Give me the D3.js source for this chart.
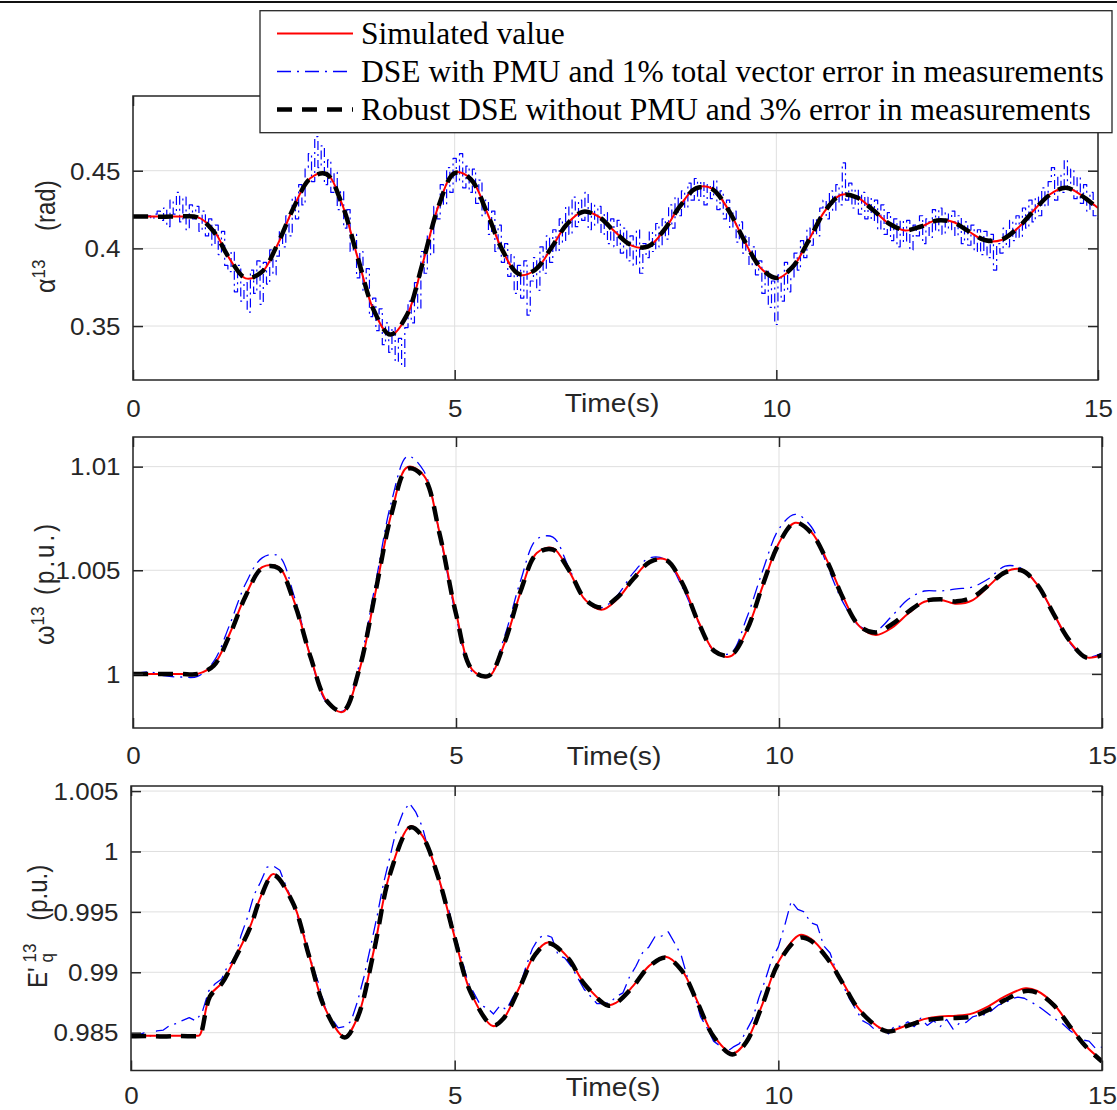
<!DOCTYPE html>
<html>
<head>
<meta charset="utf-8">
<script src="https://cdn.jsdelivr.net/npm/d3@7"></script>
<style>
  html, body { margin: 0; padding: 0; background: #fff; }
  svg { display: block; }
</style>
</head>
<body>
<svg id="fig" width="1117" height="1110"></svg>
<script>
// ---------------------------------------------------------------------------
// Data: generator 13 rotor angle, speed and transient EMF after a disturbance
// ---------------------------------------------------------------------------
const timeTicks  = [0, 5, 10, 15];
const alphaTicks = [0.35, 0.4, 0.45];
const omegaTicks = [1, 1.005, 1.01];
const eqTicks    = [0.985, 0.99, 0.995, 1, 1.005];

const legendLabels = [
  "Simulated value",
  "DSE with PMU and 1% total vector error in measurements",
  "Robust DSE without PMU and 3% error in measurements"
];

// rotor angle (rad), every 0.25 s
const alphaSim = [
  0.4205, 0.4205, 0.4205, 0.4205, 0.4203, 0.4119, 0.3934, 0.3807, 0.3844, 0.4027,
  0.4267, 0.4450, 0.4483, 0.4285, 0.3929, 0.3592, 0.3441, 0.3560, 0.3899, 0.4275,
  0.4488, 0.4448, 0.4235, 0.3980, 0.3831, 0.3859, 0.4000, 0.4160, 0.4238, 0.4201,
  0.4104, 0.4018, 0.4009, 0.4113, 0.4273, 0.4389, 0.4385, 0.4252, 0.4051, 0.3876,
  0.3806, 0.3876, 0.4050, 0.4238, 0.4344, 0.4330, 0.4250, 0.4159, 0.4115, 0.4140,
  0.4182, 0.4170, 0.4107, 0.4050, 0.4054, 0.4129, 0.4244, 0.4347, 0.4392, 0.4340,
  0.4260
];
const alphaRobust = [
  0.4205, 0.4205, 0.4204, 0.4206, 0.4200, 0.4110, 0.3935, 0.3810, 0.3848, 0.4030,
  0.4265, 0.4448, 0.4480, 0.4283, 0.3930, 0.3595, 0.3445, 0.3565, 0.3902, 0.4272,
  0.4485, 0.4445, 0.4232, 0.3982, 0.3835, 0.3862, 0.4002, 0.4158, 0.4236, 0.4200,
  0.4102, 0.4020, 0.4011, 0.4115, 0.4270, 0.4386, 0.4383, 0.4250, 0.4053, 0.3879,
  0.3810, 0.3879, 0.4048, 0.4236, 0.4342, 0.4328, 0.4248, 0.4160, 0.4117, 0.4141,
  0.4180, 0.4168, 0.4108, 0.4052, 0.4056, 0.4130, 0.4242, 0.4345, 0.4390, 0.4338,
  0.4258
];
// rotor angle estimated with PMU data, every 0.05 s (held between samples)
const alphaPmu = [
  0.420, 0.421, 0.420, 0.421, 0.420, 0.421, 0.419, 0.422, 0.424, 0.418,
  0.426, 0.414, 0.431, 0.422, 0.436, 0.417, 0.433, 0.412, 0.428, 0.419,
  0.427, 0.411, 0.424, 0.408, 0.419, 0.402, 0.415, 0.396, 0.411, 0.389,
  0.385, 0.398, 0.372, 0.389, 0.366, 0.378, 0.359, 0.386, 0.371, 0.392,
  0.364, 0.391, 0.377, 0.399, 0.383, 0.395, 0.412, 0.401, 0.421, 0.408,
  0.433, 0.419, 0.441, 0.428, 0.452, 0.461, 0.443, 0.472, 0.452, 0.466,
  0.441, 0.457, 0.436, 0.449, 0.425, 0.437, 0.413, 0.425, 0.398, 0.409,
  0.381, 0.398, 0.372, 0.387, 0.356, 0.368, 0.347, 0.361, 0.338, 0.352,
  0.333, 0.349, 0.327, 0.342, 0.324, 0.349, 0.366, 0.352, 0.378, 0.361,
  0.398, 0.384, 0.409, 0.396, 0.427, 0.419, 0.441, 0.428, 0.452, 0.436,
  0.458, 0.443, 0.461, 0.439, 0.453, 0.436, 0.451, 0.429, 0.444, 0.421,
  0.431, 0.409, 0.424, 0.398, 0.415, 0.391, 0.403, 0.382, 0.396, 0.371,
  0.389, 0.368, 0.392, 0.357, 0.379, 0.394, 0.373, 0.401, 0.384, 0.408,
  0.391, 0.412, 0.398, 0.419, 0.404, 0.427, 0.409, 0.433, 0.414, 0.431,
  0.418, 0.436, 0.412, 0.429, 0.415, 0.427, 0.409, 0.423, 0.403, 0.419,
  0.401, 0.418, 0.397, 0.413, 0.392, 0.408, 0.389, 0.412, 0.384, 0.403,
  0.394, 0.411, 0.398, 0.416, 0.401, 0.419, 0.406, 0.428, 0.413, 0.433,
  0.421, 0.437, 0.426, 0.442, 0.431, 0.445, 0.431, 0.443, 0.428, 0.441,
  0.432, 0.444, 0.425, 0.437, 0.419, 0.431, 0.413, 0.424, 0.404, 0.417,
  0.397, 0.408, 0.389, 0.401, 0.383, 0.392, 0.371, 0.386, 0.362, 0.379,
  0.351, 0.383, 0.366, 0.391, 0.372, 0.381, 0.397, 0.386, 0.405, 0.394,
  0.413, 0.402, 0.419, 0.408, 0.426, 0.431, 0.419, 0.437, 0.424, 0.441,
  0.428, 0.455, 0.431, 0.442, 0.426, 0.438, 0.422, 0.436, 0.419, 0.433,
  0.418, 0.431, 0.412, 0.428, 0.409, 0.423, 0.405, 0.419, 0.401, 0.418,
  0.404, 0.418, 0.399, 0.415, 0.408, 0.421, 0.403, 0.419, 0.407, 0.425,
  0.411, 0.426, 0.409, 0.423, 0.412, 0.424, 0.408, 0.421, 0.403, 0.417,
  0.402, 0.415, 0.398, 0.412, 0.396, 0.411, 0.394, 0.409, 0.386, 0.403,
  0.397, 0.413, 0.401, 0.418, 0.405, 0.421, 0.407, 0.426, 0.413, 0.431,
  0.417, 0.433, 0.421, 0.439, 0.427, 0.443, 0.452, 0.431, 0.447, 0.436,
  0.457, 0.438, 0.451, 0.432, 0.446, 0.429, 0.441, 0.424, 0.436, 0.421,
  0.419
];

// rotor speed (p.u.), every 0.25 s
const omegaSim = [
  1.00000, 1.00000, 1.00000, 1.00000, 1.00000, 1.00043, 1.00196, 1.00384, 1.00515, 1.00516,
  1.00345, 1.00081, 0.99866, 0.99817, 1.00013, 1.00388, 1.00774, 1.00998, 1.00958, 1.00675,
  1.00296, 1.00021, 0.99986, 1.00147, 1.00394, 1.00583, 1.00607, 1.00496, 1.00357, 1.00309,
  1.00362, 1.00461, 1.00543, 1.00551, 1.00437, 1.00255, 1.00110, 1.00085, 1.00209, 1.00426,
  1.00633, 1.00729, 1.00685, 1.00543, 1.00366, 1.00228, 1.00188, 1.00223, 1.00291, 1.00348,
  1.00357, 1.00338, 1.00356, 1.00425, 1.00492, 1.00505, 1.00430, 1.00293, 1.00156, 1.00081,
  1.00090
];
const omegaPmu = [
  1.00000, 1.00010, 0.99990, 0.99985, 0.99988, 1.00060, 1.00240, 1.00440, 1.00560, 1.00570,
  1.00370, 1.00080, 0.99860, 0.99820, 1.00040, 1.00430, 1.00830, 1.01050, 1.00980, 1.00670,
  1.00280, 1.00010, 0.99990, 1.00180, 1.00450, 1.00650, 1.00660, 1.00510, 1.00360, 1.00320,
  1.00380, 1.00490, 1.00560, 1.00550, 1.00420, 1.00250, 1.00110, 1.00100, 1.00270, 1.00500,
  1.00700, 1.00770, 1.00710, 1.00520, 1.00340, 1.00230, 1.00210, 1.00280, 1.00360, 1.00400,
  1.00400, 1.00410, 1.00420, 1.00460, 1.00520, 1.00510, 1.00430, 1.00290, 1.00150, 1.00080,
  1.00100
];
const omegaRobust = [
  1.00000, 1.00000, 1.00000, 1.00000, 1.00000, 1.00040, 1.00190, 1.00380, 1.00510, 1.00510,
  1.00340, 1.00080, 0.99870, 0.99820, 1.00020, 1.00390, 1.00770, 1.00990, 1.00950, 1.00670,
  1.00290, 1.00020, 0.99990, 1.00150, 1.00400, 1.00580, 1.00600, 1.00500, 1.00360, 1.00320,
  1.00370, 1.00460, 1.00540, 1.00550, 1.00440, 1.00250, 1.00110, 1.00090, 1.00210, 1.00430,
  1.00630, 1.00730, 1.00680, 1.00540, 1.00360, 1.00230, 1.00200, 1.00240, 1.00300, 1.00350,
  1.00360, 1.00350, 1.00370, 1.00430, 1.00490, 1.00500, 1.00430, 1.00290, 1.00160, 1.00080,
  1.00090
];

// transient EMF E'q (p.u.), knots at the listed times
const eqTime = [
  0, 0.25, 0.5, 0.75, 1.0, 1.06, 1.22, 1.4, 1.6, 1.84,
  2.0, 2.2, 2.5, 2.75, 3.0, 3.3, 3.5, 3.75, 4.0, 4.32,
  4.5, 4.75, 5.0, 5.25, 5.59, 5.75, 6.0, 6.25, 6.45, 6.75,
  7.0, 7.37, 7.5, 7.75, 8.0, 8.26, 8.5, 8.75, 9.0, 9.29,
  9.5, 9.75, 10.0, 10.33, 10.5, 10.75, 11.0, 11.25, 11.67, 12.0,
  12.25, 12.5, 12.75, 13.0, 13.25, 13.5, 13.82, 14.0, 14.25, 14.5,
  14.75, 15.0
];
const eqSim = [
  0.98475, 0.98475, 0.98475, 0.98475, 0.98475, 0.98478, 0.98810, 0.98910, 0.99110, 0.99377,
  0.99620, 0.99814, 0.99582, 0.99141, 0.98699, 0.98467, 0.98627, 0.99179, 0.99820, 1.00211,
  1.00131, 0.99785, 0.99291, 0.98832, 0.98555, 0.98612, 0.98876, 0.99160, 0.99248, 0.99123,
  0.98910, 0.98729, 0.98750, 0.98883, 0.99051, 0.99129, 0.99027, 0.98759, 0.98475, 0.98329,
  0.98424, 0.98731, 0.99085, 0.99309, 0.99278, 0.99132, 0.98913, 0.98694, 0.98517, 0.98565,
  0.98612, 0.98635, 0.98640, 0.98660, 0.98720, 0.98800, 0.98867, 0.98845, 0.98740, 0.98560,
  0.98390, 0.98270
];
const eqRobust = [
  0.98470, 0.98472, 0.98468, 0.98473, 0.98470, 0.98475, 0.98800, 0.98905, 0.99105, 0.99370,
  0.99615, 0.99805, 0.99575, 0.99135, 0.98695, 0.98460, 0.98625, 0.99170, 0.99810, 1.00200,
  1.00125, 0.99780, 0.99285, 0.98830, 0.98560, 0.98615, 0.98870, 0.99150, 0.99240, 0.99118,
  0.98905, 0.98725, 0.98748, 0.98878, 0.99045, 0.99122, 0.99020, 0.98750, 0.98468, 0.98320,
  0.98418, 0.98725, 0.99075, 0.99285, 0.99262, 0.99120, 0.98905, 0.98688, 0.98512, 0.98558,
  0.98600, 0.98618, 0.98622, 0.98635, 0.98690, 0.98770, 0.98845, 0.98830, 0.98730, 0.98555,
  0.98385, 0.98262
];
// E'q estimated with PMU data, every 0.1 s
const eqPmu = [
  0.98490, 0.98478, 0.98498, 0.98472, 0.98515, 0.98522, 0.98560, 0.98575, 0.98602, 0.98625,
  0.98598, 0.98670, 0.98845, 0.98905, 0.98945, 0.99060, 0.99105, 0.99305, 0.99455, 0.99640,
  0.99745, 0.99870, 0.99880, 0.99845, 0.99705, 0.99585, 0.99415, 0.99275, 0.99060, 0.98905,
  0.98705, 0.98615, 0.98540, 0.98550, 0.98595, 0.98760, 0.98965, 0.99210, 0.99460, 0.99735,
  0.99955, 1.00180, 1.00320, 1.00400, 1.00325, 1.00205, 1.00005, 0.99875, 0.99685, 0.99535,
  0.99315, 0.99135, 0.98925, 0.98825, 0.98725, 0.98705, 0.98655, 0.98725, 0.98690, 0.98795,
  0.98875, 0.99045, 0.99195, 0.99285, 0.99310, 0.99290, 0.99140, 0.99120, 0.99050, 0.98955,
  0.98860, 0.98800, 0.98740, 0.98740, 0.98750, 0.98800, 0.98830, 0.98960, 0.99050, 0.99160,
  0.99210, 0.99300, 0.99300, 0.99335, 0.99240, 0.99140, 0.98950, 0.98820, 0.98630, 0.98540,
  0.98430, 0.98390, 0.98340, 0.98380, 0.98410, 0.98510, 0.98610, 0.98790, 0.98940, 0.99110,
  0.99210, 0.99390, 0.99590, 0.99520, 0.99500, 0.99410, 0.99390, 0.99220, 0.99160, 0.99000,
  0.98890, 0.98780, 0.98690, 0.98600, 0.98570, 0.98520, 0.98550, 0.98490, 0.98560, 0.98550,
  0.98590, 0.98550, 0.98620, 0.98560, 0.98600, 0.98550, 0.98610, 0.98530, 0.98580, 0.98585,
  0.98630, 0.98645, 0.98650, 0.98685, 0.98730, 0.98745, 0.98780, 0.98795, 0.98785, 0.98755,
  0.98725, 0.98685, 0.98645, 0.98605, 0.98570, 0.98520, 0.98480, 0.98440, 0.98430, 0.98370,
  0.98380
];

// ---------------------------------------------------------------------------
// Drawing
// ---------------------------------------------------------------------------
const SX = 1.13;                       // horizontal stretch of the sans lettering
const SANS = "'Liberation Sans', Arial, Helvetica, sans-serif";
const SERIF = "'Liberation Serif', 'Times New Roman', serif";
const INK = "#262626";

const sampled = (n, step) => d3.range(n).map(i => +(i * step).toFixed(3));
const pairs = (times, values) => values.map((v, i) => [times[i], v]);

const smooth = d3.curveCatmullRom.alpha(0.5);
const styles = {
  sim:    { stroke: "#ff0000", width: 2,   dash: null },
  pmu:    { stroke: "#0000ff", width: 1.3, dash: "14 6 2 6" },
  robust: { stroke: "#000000", width: 4.5, dash: "15 10" }
};

const svg = d3.select("#fig");

// rule along the top edge
svg.append("line")
  .attr("x1", 0).attr("x2", 1117).attr("y1", 2).attr("y2", 2)
  .attr("stroke", "#111").attr("stroke-width", 2);

const panels = [
  {
    key: "alpha", left: 133, right: 1098, top: 96, bottom: 380,
    yDomain: [0.31526, 0.4981], ticks: alphaTicks, xPad: 21,
    series: [
      { kind: "pmu",    data: pairs(sampled(alphaPmu.length, 0.05), alphaPmu), curve: d3.curveStep, width: 1.2, dash: "9 4 2 4" },
      { kind: "sim",    data: pairs(sampled(alphaSim.length, 0.25), alphaSim), curve: smooth },
      { kind: "robust", data: pairs(sampled(alphaRobust.length, 0.25), alphaRobust), curve: smooth }
    ],
    timeLabel: { x: 612, y: 411.5 },
    yLabel: { x: 55, y: 293, parts: [
      { text: "α", size: 25 },
      { text: "13", size: 17, dy: -9 },
      { text: " (rad)", size: 24, dx: 22, dy: 9 }
    ] }
  },
  {
    key: "omega", left: 133, right: 1102, top: 437, bottom: 728,
    yDomain: [0.99739, 1.01143], ticks: omegaTicks, xPad: 20,
    series: [
      { kind: "pmu",    data: pairs(sampled(omegaPmu.length, 0.25), omegaPmu), curve: smooth },
      { kind: "sim",    data: pairs(sampled(omegaSim.length, 0.25), omegaSim), curve: smooth },
      { kind: "robust", data: pairs(sampled(omegaRobust.length, 0.25), omegaRobust), curve: smooth }
    ],
    timeLabel: { x: 614, y: 765 },
    yLabel: { x: 54, y: 645, parts: [
      { text: "ω", size: 25 },
      { text: "13", size: 17, dy: -9 },
      { text: " (p.u.)", size: 24, dx: 2, dy: 9, spacing: 3 }
    ] }
  },
  {
    key: "eq", left: 131, right: 1102, top: 786, bottom: 1070.5,
    yDomain: [0.98187, 1.00542], ticks: eqTicks, xPad: 17,
    series: [
      { kind: "pmu",    data: pairs(sampled(eqPmu.length, 0.1), eqPmu), curve: d3.curveLinear },
      { kind: "sim",    data: pairs(eqTime, eqSim), curve: smooth },
      { kind: "robust", data: pairs(eqTime, eqRobust), curve: smooth }
    ],
    timeLabel: { x: 613, y: 1096 },
    yLabel: { x: 46.5, y: 988, parts: [
      { text: "E'", size: 24 },
      { text: "13", size: 17, dx: 5, dy: -9, mark: "sup" },
      { text: "q", size: 17, dy: 15, back: "sup" },
      { text: " (p.u.)", size: 24, dy: -6, gapAfter: "sup", gap: 16 }
    ] }
  }
];

const fmt = d3.format("~g");

panels.forEach(p => {
  const g = svg.append("g").attr("class", "panel-" + p.key);
  const x = d3.scaleLinear().domain([0, 15]).range([p.left, p.right]);
  const y = d3.scaleLinear().domain(p.yDomain).range([p.bottom, p.top]);

  // grid
  const grid = g.append("g").attr("stroke", "#dfdfdf").attr("stroke-width", 1);
  grid.selectAll("line.gx").data(timeTicks).join("line").attr("class", "gx")
    .attr("x1", d => x(d)).attr("x2", d => x(d))
    .attr("y1", p.top).attr("y2", p.bottom);
  grid.selectAll("line.gy").data(p.ticks).join("line").attr("class", "gy")
    .attr("x1", p.left).attr("x2", p.right)
    .attr("y1", d => y(d)).attr("y2", d => y(d));

  // data
  const clipId = "clip-" + p.key;
  g.append("clipPath").attr("id", clipId).append("rect")
    .attr("x", p.left).attr("y", p.top)
    .attr("width", p.right - p.left).attr("height", p.bottom - p.top);
  const plot = g.append("g").attr("clip-path", `url(#${clipId})`);
  p.series.forEach(s => {
    const st = styles[s.kind];
    const line = d3.line().x(d => x(d[0])).y(d => y(d[1])).curve(s.curve);
    plot.append("path")
      .attr("d", line(s.data))
      .attr("fill", "none")
      .attr("stroke", st.stroke)
      .attr("stroke-width", s.width || st.width)
      .attr("stroke-dasharray", s.dash || st.dash)
      .attr("stroke-linejoin", "round");
  });

  // axes: ticks on all four sides, pointing inward
  const styleText = sel => sel.selectAll("text")
    .attr("font-family", SANS).attr("font-size", 23).attr("fill", INK)
    .attr("transform", `scale(${SX},1)`);
  const clean = sel => { sel.select(".domain").remove(); sel.selectAll(".tick line").attr("stroke-width", 1.5); };

  g.append("g").attr("transform", `translate(0,${p.bottom})`).attr("color", INK)
    .call(d3.axisBottom(x).tickValues(timeTicks).tickSizeInner(-10).tickSizeOuter(0).tickPadding(p.xPad).tickFormat(fmt))
    .call(clean).call(styleText);
  g.append("g").attr("transform", `translate(0,${p.top})`).attr("color", INK)
    .call(d3.axisTop(x).tickValues(timeTicks).tickSizeInner(-10).tickSizeOuter(0).tickFormat(""))
    .call(clean);
  g.append("g").attr("transform", `translate(${p.left},0)`).attr("color", INK)
    .call(d3.axisLeft(y).tickValues(p.ticks).tickSizeInner(-10).tickSizeOuter(0).tickPadding(11).tickFormat(fmt))
    .call(clean).call(styleText)
    .selectAll("text").attr("dy", "0.36em");
  g.append("g").attr("transform", `translate(${p.right},0)`).attr("color", INK)
    .call(d3.axisRight(y).tickValues(p.ticks).tickSizeInner(-10).tickSizeOuter(0).tickFormat(""))
    .call(clean);

  g.append("rect")
    .attr("x", p.left).attr("y", p.top)
    .attr("width", p.right - p.left).attr("height", p.bottom - p.top)
    .attr("fill", "none").attr("stroke", INK).attr("stroke-width", 1.5);

  // x label
  g.append("text")
    .attr("transform", `translate(${p.timeLabel.x},${p.timeLabel.y}) scale(${SX},1)`)
    .attr("text-anchor", "middle")
    .attr("font-family", SANS).attr("font-size", 25).attr("fill", INK)
    .text("Time(s)");

  // y label, rotated, with superscript / subscript
  const yl = g.append("text")
    .attr("transform", `translate(${p.yLabel.x},${p.yLabel.y}) scale(${SX},1) rotate(-90)`)
    .attr("text-anchor", "start")
    .attr("font-family", SANS).attr("fill", INK);
  const marks = {};
  p.yLabel.parts.forEach(part => {
    const ts = yl.append("tspan").attr("font-size", part.size).text(part.text);
    if (part.spacing) ts.attr("letter-spacing", part.spacing);
    let dx = part.dx || 0;
    if (part.back) dx -= marks[part.back];
    if (part.gapAfter) {
      const prev = yl.selectAll("tspan").nodes();
      const qLen = prev[prev.length - 2].getComputedTextLength();
      dx += marks[part.gapAfter] - qLen + part.gap;
    }
    if (dx) ts.attr("dx", dx);
    if (part.dy) ts.attr("dy", part.dy);
    if (part.mark) marks[part.mark] = ts.node().getComputedTextLength();
  });
});

// legend
const lg = svg.append("g").attr("class", "legend");
lg.append("rect")
  .attr("x", 260).attr("y", 10.7).attr("width", 852).attr("height", 122)
  .attr("fill", "#fff").attr("stroke", INK).attr("stroke-width", 1.3);
const legendKinds = ["sim", "pmu", "robust"];
const rowY = d3.scalePoint().domain(legendKinds).range([33.5, 109.5]);
legendKinds.forEach((k, i) => {
  const st = styles[k];
  lg.append("line")
    .attr("x1", 277).attr("x2", 353).attr("y1", rowY(k)).attr("y2", rowY(k))
    .attr("stroke", st.stroke).attr("stroke-width", st.width)
    .attr("stroke-dasharray", st.dash);
  lg.append("text")
    .attr("x", 361).attr("y", rowY(k) + 10.5)
    .attr("font-family", SERIF).attr("font-size", 31.5).attr("fill", "#000")
    .text(legendLabels[i]);
});
</script>
</body>
</html>
